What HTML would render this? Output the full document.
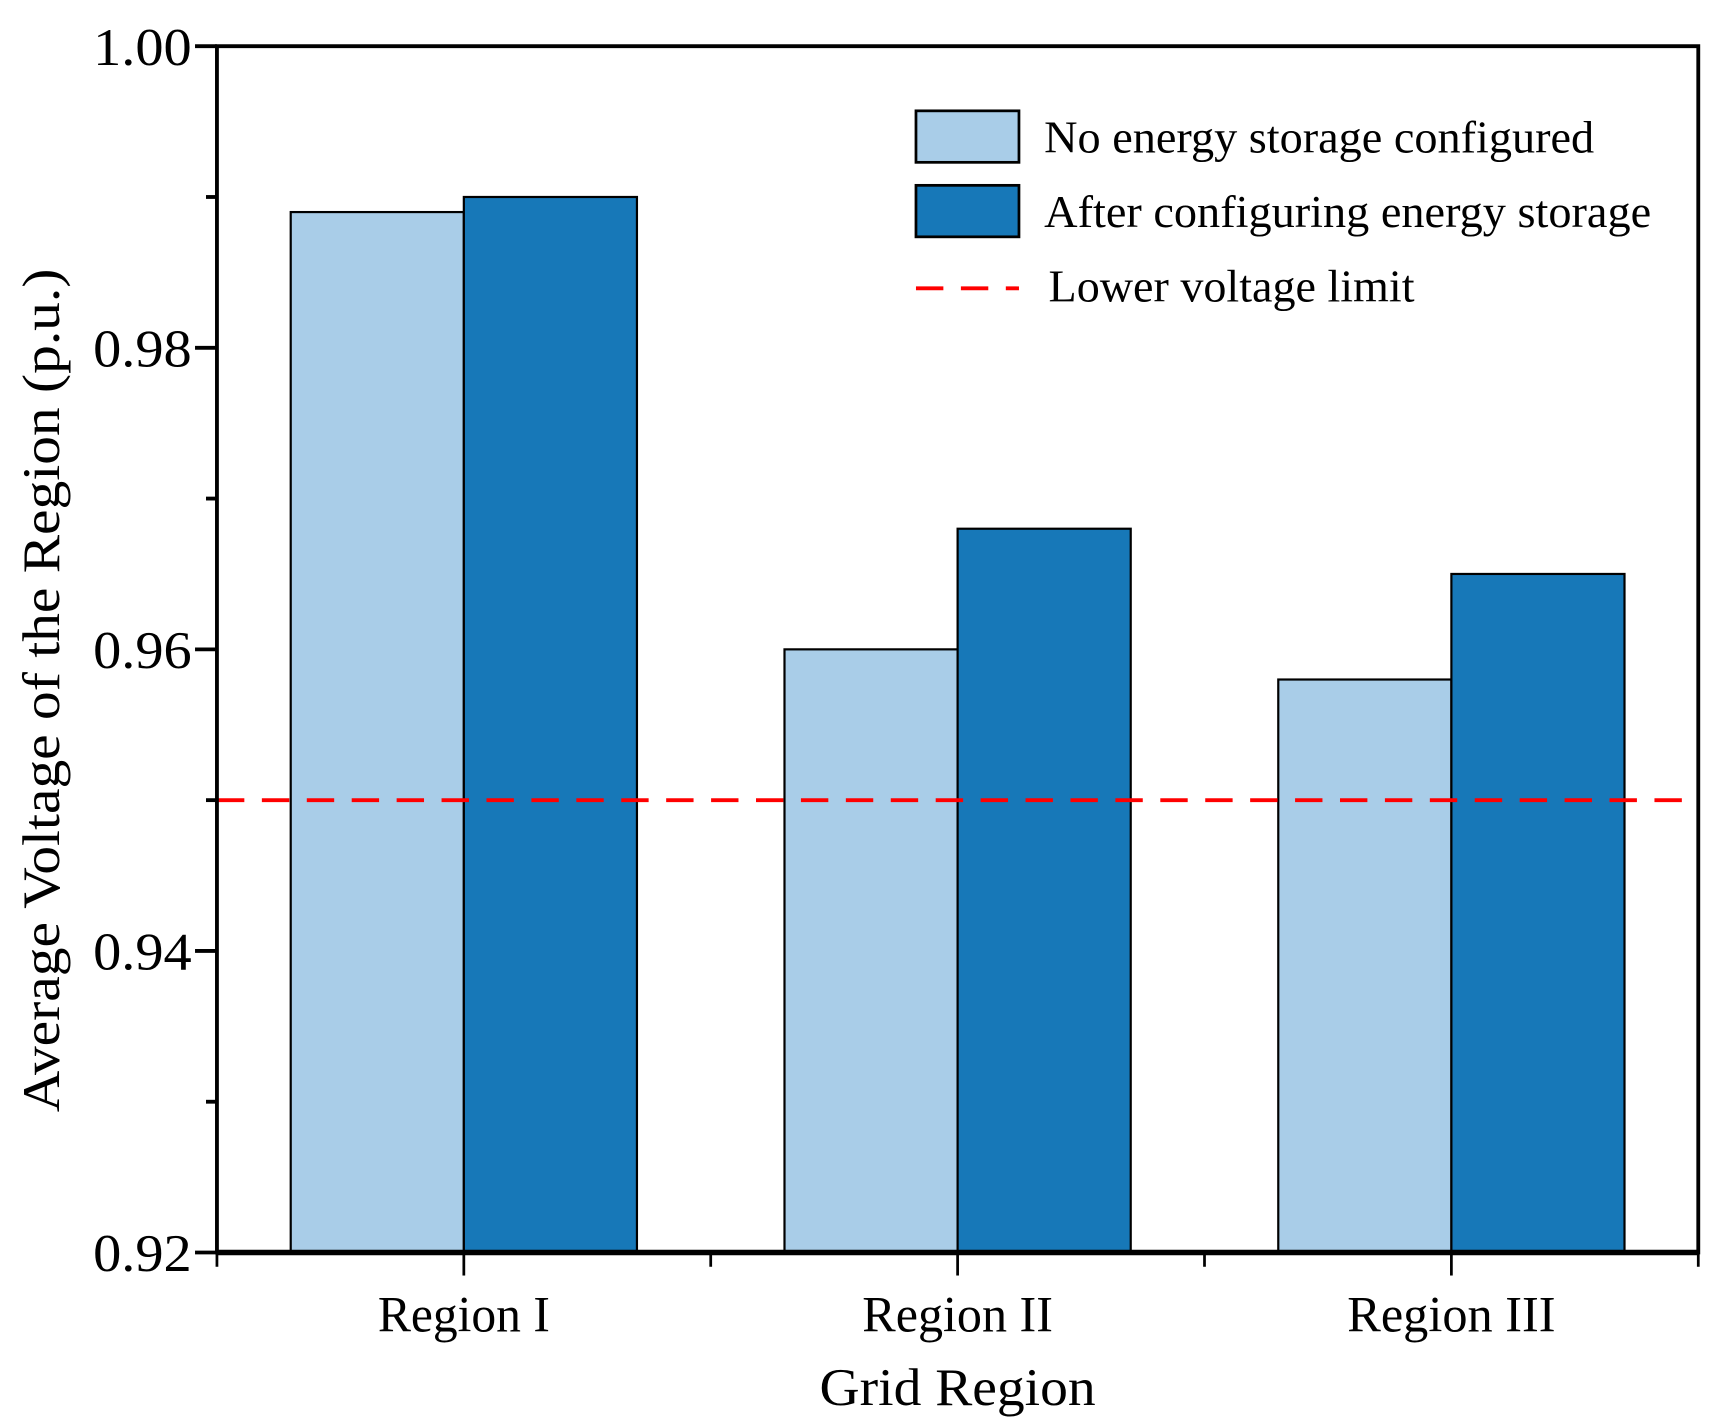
<!DOCTYPE html>
<html><head><meta charset="utf-8"><style>
html,body{margin:0;padding:0;background:#fff;}
svg{display:block;}
text{font-family:"Liberation Serif","Times New Roman",serif;fill:#000;}
</style></head><body>
<svg id="chart" width="1718" height="1428" viewBox="0 0 1568 1303" xmlns="http://www.w3.org/2000/svg">
<g id="plot"></g>
</svg>
<script>
const categories = ["Region I", "Region II", "Region III"];
const noStorage = [0.989, 0.960, 0.958];
const withStorage = [0.990, 0.968, 0.965];
const lowerLimit = [0.95];
const yTicks = [0.92, 0.94, 0.96, 0.98, 1.00];
const yTickLabels = ["0.92", "0.94", "0.96", "0.98", "1.00"];
const seriesNames = ["No energy storage configured", "After configuring energy storage", "Lower voltage limit"];

const NS = "http://www.w3.org/2000/svg";
const L = 198, R = 1550, T = 42, B = 1143;
const yMin = 0.92, yMax = 1.00;
function y(v){ return B - (v - yMin) / (yMax - yMin) * (B - T); }
function x(i){ return L + (i + 0.5) / categories.length * (R - L); }
const barW = 158;
const g = document.getElementById('plot');
function mk(tag, attrs, parent){
  const e = document.createElementNS(NS, tag);
  for (const k in attrs) e.setAttribute(k, attrs[k]);
  (parent || g).appendChild(e);
  return e;
}
const xLabelLen = [157, 174, 190];

categories.forEach((c, i) => {
  const cx = x(i);
  const b1 = mk('rect', {x: cx - barW, y: y(noStorage[i]), width: barW, height: B - y(noStorage[i]), fill: '#a9cde8', stroke: '#000', 'stroke-width': 2});
  
  
  const b2 = mk('rect', {x: cx, y: y(withStorage[i]), width: barW, height: B - y(withStorage[i]), fill: '#1778b8', stroke: '#000', 'stroke-width': 2});
  
  
  const lbl = mk('text', {x: cx, y: 1215, 'font-size': 46, 'text-anchor': 'middle', textLength: xLabelLen[i], lengthAdjust: 'spacingAndGlyphs'});
  lbl.textContent = c;
  
  
  const tk = mk('line', {x1: cx, y1: B, x2: cx, y2: 1164, stroke: '#000', 'stroke-width': 2.5});
  
  
});
for (let i = 0; i <= categories.length; i++) {
  const mx = L + i / categories.length * (R - L);
  const t = mk('line', {x1: mx, y1: B, x2: mx, y2: 1156, stroke: '#000', 'stroke-width': 2.5});
  
  
}

const lim = mk('line', {x1: L, y1: y(lowerLimit[0]), x2: R, y2: y(lowerLimit[0]), stroke: '#ff0000', 'stroke-width': 3.5, 'stroke-dasharray': '25 16'});



yTicks.forEach((v, i) => {
  const t = mk('line', {x1: 178, y1: y(v), x2: L, y2: y(v), stroke: '#000', 'stroke-width': 3.5});
  
  
  const tl = mk('text', {x: 175, y: y(v) + 17, 'font-size': 48, 'text-anchor': 'end', textLength: 90, lengthAdjust: 'spacingAndGlyphs'});
  tl.textContent = yTickLabels[i];
  
  
  if (i < yTicks.length - 1) {
    const mv = (v + yTicks[i + 1]) / 2;
    const m = mk('line', {x1: 188, y1: y(mv), x2: L, y2: y(mv), stroke: '#000', 'stroke-width': 3.5});
    
    
  }
});

const ax = mk('path', {d: `M${L},${T} H${R} V${B} H${L} Z`, fill: 'none', stroke: '#000', 'stroke-width': 3.5});


const xa = mk('line', {x1: L, y1: B, x2: R, y2: B, stroke: '#000', 'stroke-width': 5});



const yt = mk('text', {x: 0, y: 0, 'font-size': 48, 'text-anchor': 'middle', textLength: 770, lengthAdjust: 'spacingAndGlyphs', transform: `translate(54,630) rotate(-90)`});
yt.textContent = 'Average Voltage of the Region (p.u.)';


const xt = mk('text', {x: 874, y: 1282, 'font-size': 48, 'text-anchor': 'middle', textLength: 252, lengthAdjust: 'spacingAndGlyphs'});
xt.textContent = 'Grid Region';



const lg = mk('g', {});


const r1 = mk('rect', {x: 836, y: 101, width: 94, height: 47, fill: '#a9cde8', stroke: '#000', 'stroke-width': 2.5}, lg);


const r2 = mk('rect', {x: 836, y: 169, width: 94, height: 47, fill: '#1778b8', stroke: '#000', 'stroke-width': 2.5}, lg);


const r3 = mk('line', {x1: 836, y1: 263, x2: 930, y2: 263, stroke: '#ff0000', 'stroke-width': 3.5, 'stroke-dasharray': '25 16'}, lg);


[[953, 139, 502], [953, 207, 554], [957, 275, 334]].forEach((p, i) => {
  const t = mk('text', {x: p[0], y: p[1], 'font-size': 42, textLength: p[2], lengthAdjust: 'spacingAndGlyphs'}, lg);
  t.textContent = seriesNames[i];
  
  
});
</script>
</body></html>
